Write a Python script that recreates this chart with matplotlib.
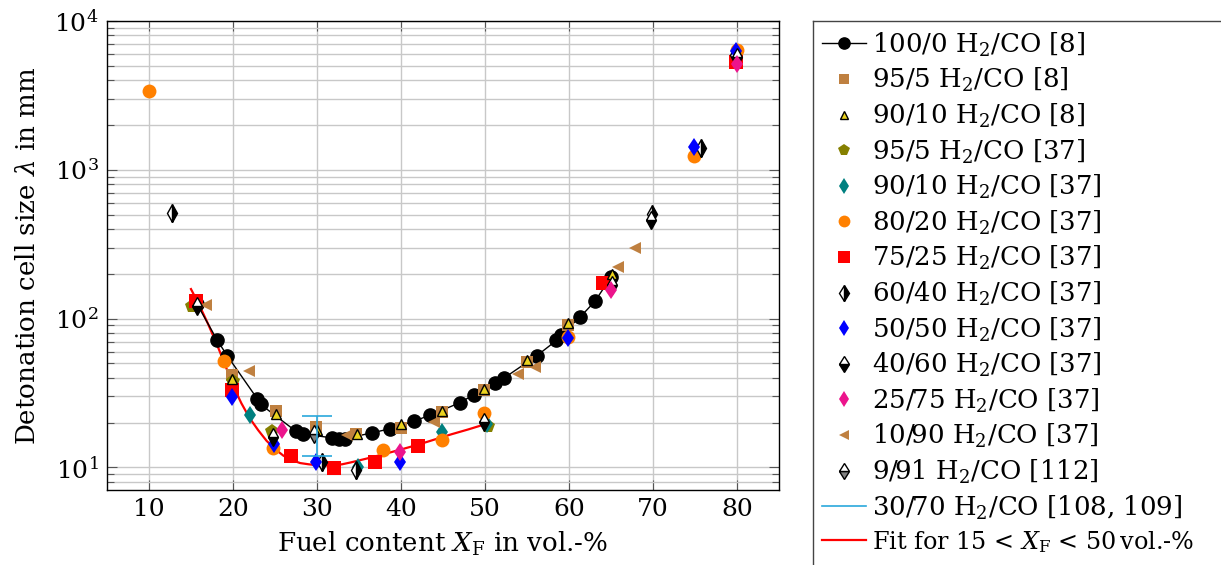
import numpy as np
import matplotlib
matplotlib.use("Agg")
import matplotlib.pyplot as plt
from matplotlib.lines import Line2D

plt.rcParams['font.family'] = ['DejaVu Serif']
plt.rcParams['mathtext.fontset'] = 'dejavuserif'

# --- data ---
h2_100_x = [15.7, 18.1, 19.3, 22.9, 23.3, 27.5, 28.3, 31.8, 32.6, 33.3, 36.6, 38.7,
            41.5, 43.5, 47.0, 48.7, 51.2, 52.3, 56.2, 58.5, 59.0, 61.3, 63.1, 65.0]
h2_100_y = [126, 72, 56.5, 28.9, 26.5, 17.5, 16.8, 15.8, 15.6, 15.6, 17.1, 18.2,
            20.4, 22.5, 27.2, 30.9, 36.8, 40, 56.5, 71.3, 78, 102, 131, 190]

h2_95_8_x = [19.9, 25.1, 29.9, 34.6, 40.0, 44.9, 49.9, 55.0, 59.9]
h2_95_8_y = [41.5, 23.9, 18.8, 16.8, 18.3, 23.5, 32.9, 51, 90]

h2_90_8_x = [19.9, 25.1, 30.0, 34.8, 40.0, 44.9, 49.9, 55.0, 59.9, 65.1]
h2_90_8_y = [39, 22.9, 17.9, 16.8, 19.6, 24, 33.5, 52.4, 93.8, 200]

h2_95_37_x = [15.1, 20.0, 24.7, 50.4]
h2_95_37_y = [121, 38, 17.5, 19.1]

h2_90_37_x = [22.0, 34.9, 44.9, 50.2]
h2_90_37_y = [22.6, 10.0, 17.2, 19.5]

h2_80_x = [10.0, 18.9, 24.8, 37.9, 44.9, 49.9, 59.9, 74.9, 80.0]
h2_80_y = [3380, 51.8, 13.6, 13.0, 15.3, 23.3, 75, 1240, 6380]

h2_75_x = [15.6, 19.9, 26.9, 32.0, 36.9, 42.0, 64.0, 79.9]
h2_75_y = [132, 32.9, 12.0, 9.9, 10.9, 14.0, 173, 5320]

h2_60_x = [12.7, 30.6, 34.7, 69.9, 75.7, 79.8]
h2_60_y = [516, 10.9, 9.6, 508, 1400, 5950]

h2_50_x = [19.9, 24.9, 29.9, 39.9, 59.9, 74.9, 79.9]
h2_50_y = [29.7, 14.4, 10.8, 10.9, 74.3, 1426, 6310]

h2_40_x = [15.7, 24.8, 49.9, 65.1, 69.8, 80.0]
h2_40_y = [122, 16.0, 20.1, 168, 458, 5760]

h2_25_x = [25.8, 39.9, 65.0, 80.0]
h2_25_y = [17.9, 12.6, 156, 5140]

h2_10_x = [16.8, 21.9, 33.6, 43.9, 53.9, 56.0, 65.8, 67.8]
h2_10_y = [123, 44.4, 16.6, 20.1, 42.5, 47.6, 222, 300]

h2_9_x = [29.7]
h2_9_y = [16.9]

h2_30_x = [30.0]
h2_30_lo = [12.0]
h2_30_hi = [22.3]

fit_x = [15, 16, 17, 18, 19, 20, 21, 22, 23, 24, 25, 26, 27, 28, 29, 30, 31, 32,
         33, 34, 36, 38, 40, 42, 44, 46, 48, 50]
fit_y = [158, 123, 93, 69, 50, 35.5, 27, 21.4, 17.8, 15.1, 13.3, 12.0, 11.2, 10.7,
         10.5, 10.35, 10.3, 10.35, 10.5, 10.8, 11.5, 12.3, 13.2, 14.2, 15.4, 16.7,
         18.0, 19.5]

labels = [
    r'100/0 H$_2$/CO [8]',
    r'95/5 H$_2$/CO [8]',
    r'90/10 H$_2$/CO [8]',
    r'95/5 H$_2$/CO [37]',
    r'90/10 H$_2$/CO [37]',
    r'80/20 H$_2$/CO [37]',
    r'75/25 H$_2$/CO [37]',
    r'60/40 H$_2$/CO [37]',
    r'50/50 H$_2$/CO [37]',
    r'40/60 H$_2$/CO [37]',
    r'25/75 H$_2$/CO [37]',
    r'10/90 H$_2$/CO [37]',
    r'9/91 H$_2$/CO [112]',
    r'30/70 H$_2$/CO [108, 109]',
    r'Fit for 15 < $X_\mathrm{F}$ < 50$\,$vol.-%',
]

brown = '#BF8040'
fig = plt.figure(figsize=(12.21, 5.65), dpi=100)
ax = fig.add_axes([0.0876, 0.1327, 0.5504, 0.8301])

handles = []
h_fit, = ax.plot(fit_x, fit_y, color='red', lw=1.6, zorder=2)

handles += ax.plot(h2_100_x, h2_100_y, 'o-', color='black', ms=9.5, lw=1, zorder=3)
handles += ax.plot(h2_95_8_x, h2_95_8_y, 's', color=brown, ms=9, mew=0, zorder=4)
handles += ax.plot(h2_90_8_x, h2_90_8_y, '^', mfc='#EAD21E', mec='black', ms=7.5, mew=1, zorder=5)
handles += ax.plot(h2_95_37_x, h2_95_37_y, 'p', color='#858000', ms=10, mew=0, zorder=4)
handles += ax.plot(h2_90_37_x, h2_90_37_y, 'd', color='#008080', ms=9.5, mew=0, zorder=4)
handles += ax.plot(h2_80_x, h2_80_y, 'o', color='#FF8000', ms=10, mew=0, zorder=4)
handles += ax.plot(h2_75_x, h2_75_y, 's', color='red', ms=9.5, mew=0, zorder=4)
handles += ax.plot(h2_60_x, h2_60_y, 'd', fillstyle='right', mfc='black', mfcalt='white',
                   mec='black', ms=9, mew=1, zorder=5)
handles += ax.plot(h2_50_x, h2_50_y, 'd', color='blue', ms=9.5, mew=0, zorder=5)
handles += ax.plot(h2_40_x, h2_40_y, 'd', fillstyle='bottom', mfc='black', mfcalt='white',
                   mec='black', ms=9, mew=1, zorder=5)
handles += ax.plot(h2_25_x, h2_25_y, 'd', color='#EC148C', ms=9.5, mew=0, zorder=5)
handles += ax.plot(h2_10_x, h2_10_y, '<', color=brown, ms=9, mew=0, zorder=4)
handles += ax.plot(h2_9_x, h2_9_y, 'd', fillstyle='bottom', mfc='#808080', mfcalt='white',
                   mec='black', ms=9, mew=1, zorder=6)

yc = np.sqrt(np.array(h2_30_lo) * np.array(h2_30_hi))
ax.errorbar(h2_30_x, yc, yerr=[yc - np.array(h2_30_lo), np.array(h2_30_hi) - yc],
            fmt='none', ecolor='#2AA8DC', elinewidth=1.2, capsize=11, capthick=1.2, zorder=6)
handles.append(Line2D([], [], color='#2AA8DC', lw=1.2))
handles.append(h_fit)

ax.set_yscale('log')
ax.set_xlim(5, 85)
ax.set_ylim(7.05, 1e4)
ax.set_xticks([10, 20, 30, 40, 50, 60, 70, 80])
ax.grid(True, which='major', color='#c8c8c8', lw=1)
ax.grid(True, which='minor', axis='y', color='#c8c8c8', lw=1)
ax.set_axisbelow(True)
ax.tick_params(which='both', direction='in', top=True, right=True, labelsize=18)
ax.tick_params(which='major', length=7.5, width=0.8, color='#555555', pad=6)
ax.tick_params(which='minor', length=5, width=0.8, color='#555555')
ax.tick_params(axis='x', which='minor', bottom=False, top=False)
for s in ax.spines.values():
    s.set_linewidth(1.0)
ax.set_xlabel(r'Fuel content $X_\mathrm{F}$ in vol.-%', fontsize=18.8, labelpad=6)
ax.set_ylabel(r'Detonation cell size $\lambda$ in mm', fontsize=18.8, labelpad=10)

leg = fig.legend(handles, labels, loc='upper left', bbox_to_anchor=(0.673, 0.946),
                 frameon=False, fontsize=18.7, handlelength=1.72, handletextpad=0.23,
                 labelspacing=0.285, borderaxespad=0, borderpad=0, markerscale=0.85)
# the fit label is long; keep it inside the figure
leg.get_texts()[-1].set_fontsize(17.2)
fig.add_artist(Line2D([0.666, 0.666], [0.0, 0.963], transform=fig.transFigure,
                      color='#444444', lw=1))
fig.add_artist(Line2D([0.666, 1.0], [0.963, 0.963], transform=fig.transFigure,
                      color='#444444', lw=1))

fig.savefig('out.png', dpi=100)
